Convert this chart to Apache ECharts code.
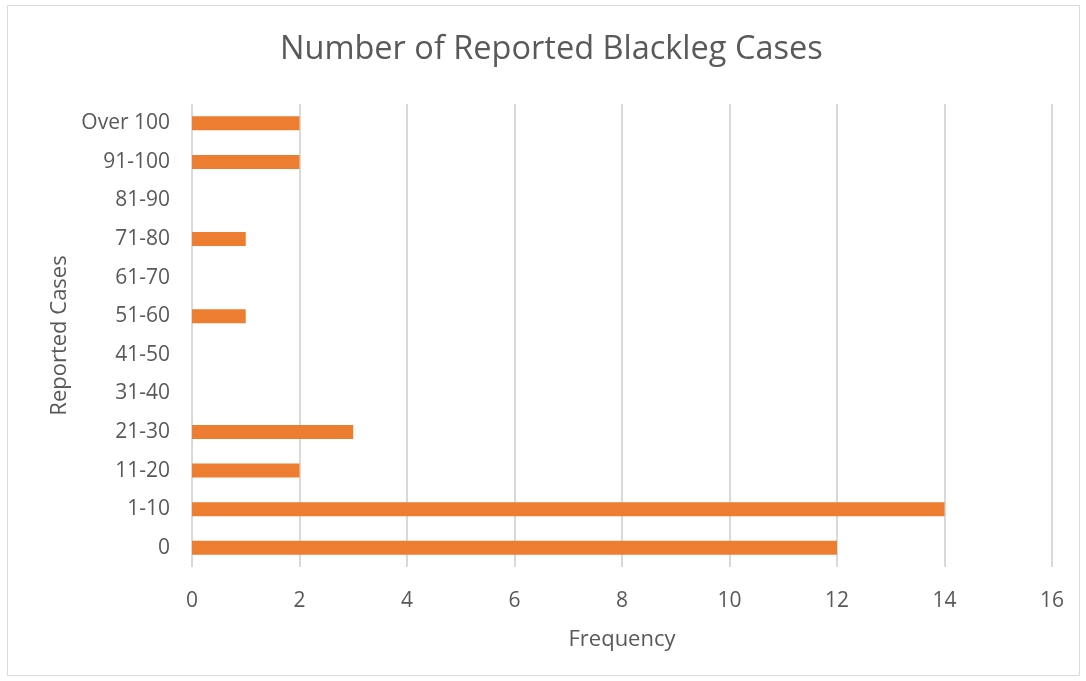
<!DOCTYPE html>
<html>
<head>
<meta charset="utf-8">
<script src="https://cdn.jsdelivr.net/npm/echarts@6/dist/echarts.min.js"></script>
<style>
  html, body { margin: 0; padding: 0; background: #fff; }
  #chart { width: 1086px; height: 681px; }
</style>
</head>
<body>
<div id="chart"></div>
<script>
// Reported case ranges (bottom to top) and how often each occurred
const caseRanges = ['0', '1-10', '11-20', '21-30', '31-40', '41-50', '51-60', '61-70', '71-80', '81-90', '91-100', 'Over 100'];
const frequency = [12, 14, 2, 3, 0, 0, 1, 0, 1, 0, 2, 2];
const freqTicks = { min: 0, max: 16, interval: 2 };

const font = '"Open Sans", "Noto Sans", sans-serif';
const textColor = '#595959';

const chart = echarts.init(document.getElementById('chart'));
chart.setOption({
  backgroundColor: '#fff',
  animation: false,
  graphic: [{
    type: 'rect',
    shape: { x: 7.5, y: 5.5, width: 1072, height: 670 },
    style: { fill: 'none', stroke: '#d9d9d9', lineWidth: 1 },
    silent: true
  }],
  title: {
    text: 'Number of Reported Blackleg Cases',
    left: 275,
    top: 28,
    textStyle: { fontFamily: font, fontSize: 32.5, fontWeight: 'normal', color: textColor }
  },
  grid: { left: 192, right: 34, top: 104, height: 463, containLabel: false },
  xAxis: {
    type: 'value',
    min: freqTicks.min,
    max: freqTicks.max,
    interval: freqTicks.interval,
    name: 'Frequency',
    nameLocation: 'middle',
    nameGap: 62,
    nameTextStyle: { fontFamily: font, fontSize: 22, color: textColor },
    axisLine: { show: false },
    axisTick: { show: false },
    axisLabel: { fontFamily: font, fontSize: 21, color: textColor, margin: 24 },
    splitLine: { show: true, lineStyle: { color: '#d9d9d9', width: 2 } }
  },
  yAxis: {
    type: 'category',
    data: caseRanges,
    name: 'Reported Cases',
    nameLocation: 'middle',
    nameGap: 121,
    nameRotate: 90,
    nameTextStyle: { fontFamily: font, fontSize: 22, color: textColor },
    axisLine: { show: false },
    axisTick: { show: false },
    axisLabel: { fontFamily: font, fontSize: 21, color: textColor, margin: 22 },
    splitLine: { show: false }
  },
  series: [{
    type: 'bar',
    data: frequency,
    barWidth: 14,
    itemStyle: { color: '#ED7D31' }
  }]
});
</script>
</body>
</html>
